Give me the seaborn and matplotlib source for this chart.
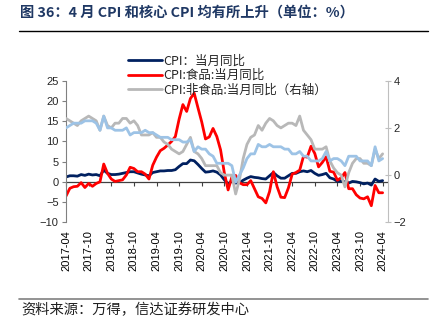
import numpy as np
import pandas as pd
import matplotlib
matplotlib.use("Agg")
import matplotlib.pyplot as plt
import seaborn as sns
from matplotlib.lines import Line2D

# ---------------- data ----------------
months = list(pd.period_range("2017-04", "2024-04", freq="M").strftime("%Y-%m"))

cpi = [1.2, 1.5, 1.5, 1.4, 1.8, 1.6, 1.9, 1.7, 1.8,
       1.5, 2.9, 2.1, 1.8, 1.8, 1.9, 2.1, 2.3, 2.5, 2.5, 2.2, 1.9,
       1.7, 1.5, 2.3, 2.5, 2.7, 2.7, 2.8, 2.8, 3.0, 3.8, 4.5, 4.5,
       5.4, 5.2, 4.3, 3.3, 2.4, 2.5, 2.7, 2.4, 1.7, 0.5, -0.5, 0.2,
       -0.3, -0.2, 0.4, 0.9, 1.3, 1.1, 1.0, 0.8, 0.7, 1.5, 2.3, 1.5,
       0.9, 0.9, 1.5, 2.1, 2.1, 2.5, 2.7, 2.5, 2.8, 2.1, 1.6, 1.8,
       2.1, 1.0, 0.7, 0.1, 0.2, 0.0, -0.3, 0.1, 0.0, -0.2, -0.5, -0.3,
       -0.8, 0.7, 0.1, 0.3]

cpi_food = [-3.5, -1.6, -1.2, -1.1, -0.2, -1.4, -0.4, -1.1, -0.4,
            0.0, 4.4, 2.1, 0.7, 0.1, 0.3, 0.5, 1.7, 3.6, 3.3, 2.5, 2.5,
            1.9, 0.7, 4.1, 6.1, 7.7, 8.3, 9.1, 10.0, 11.2, 15.5, 19.1, 17.4,
            20.6, 21.9, 18.3, 14.8, 10.6, 11.1, 13.2, 11.2, 7.9, 2.2, -2.0, 1.2,
            1.6, -0.2, -0.7, -0.7, 0.3, -1.7, -3.7, -4.1, -5.2, -2.4, 2.5, -1.2,
            -3.8, -3.9, -1.5, 1.9, 2.3, 2.9, 6.3, 6.1, 8.8, 7.0, 3.7, 4.8,
            6.2, 2.6, 2.4, 0.4, 1.0, 2.3, -1.7, -1.7, -3.2, -4.0, -4.2, -3.7,
            -5.9, -0.9, -2.7, -2.7]

cpi_nonfood = [2.4, 2.3, 2.2, 2.1, 2.3, 2.4, 2.5, 2.4, 2.3,
               1.9, 2.5, 2.1, 2.0, 2.2, 2.2, 2.4, 2.4, 2.2, 2.3, 2.1, 1.7,
               1.7, 1.7, 1.8, 1.6, 1.6, 1.4, 1.3, 1.1, 1.0, 0.9, 1.0, 1.3,
               1.6, 1.0, 0.9, 0.7, 0.4, 0.4, 0.4, 0.4, 0.1, 0.0, 0.0, 0.0,
               -0.8, -0.2, 0.7, 1.3, 1.6, 1.7, 2.1, 1.9, 2.2, 2.4, 2.3, 2.1,
               2.0, 2.1, 2.2, 2.2, 2.1, 2.5, 1.9, 1.7, 1.5, 1.1, 1.1, 1.1,
               1.2, 0.6, 0.3, 0.1, 0.0, -0.5, 0.1, 0.5, 0.7, 0.7, 0.5, 0.5,
               0.4, 1.1, 0.7, 0.9]

core_cpi = [2.0, 2.1, 2.2, 2.2, 2.2, 2.3, 2.3, 2.3, 2.2,
            1.9, 2.5, 2.0, 2.0, 1.9, 1.9, 1.9, 2.0, 1.7, 1.8, 1.8, 1.8,
            1.9, 1.8, 1.8, 1.7, 1.6, 1.6, 1.6, 1.5, 1.5, 1.5, 1.4, 1.4,
            1.5, 1.0, 1.2, 1.1, 1.1, 0.9, 0.8, 0.5, 0.5, 0.5, 0.5, 0.4,
            -0.3, 0.0, 0.3, 0.7, 0.9, 0.9, 1.3, 1.2, 1.2, 1.3, 1.2, 1.2,
            1.2, 1.1, 1.1, 0.9, 0.9, 1.0, 0.8, 0.8, 0.6, 0.6, 0.6, 0.7,
            1.0, 0.6, 0.7, 0.7, 0.6, 0.4, 0.8, 0.8, 0.8, 0.6, 0.6, 0.6,
            0.4, 1.2, 0.6, 0.7]

labels = ["CPI：当月同比", "CPI:食品:当月同比", "CPI:非食品:当月同比（右轴）"]
title = "图 36：4 月 CPI 和核心 CPI 均有所上升（单位：%）"
source = "资料来源：万得，信达证券研发中心"

left_ticks = [-10, -5, 0, 5, 10, 15, 20, 25]
right_ticks = [-2, 0, 2, 4]

df = pd.DataFrame({"x": np.arange(len(months)), "cpi": cpi, "food": cpi_food,
                   "nonfood": cpi_nonfood, "core": core_cpi})

# ---------------- style ----------------
sns.set_theme(style="white")
plt.rcParams["font.family"] = ["Liberation Sans", "Noto Sans CJK SC", "DejaVu Sans"]
CJK = ["Noto Sans CJK SC", "DejaVu Sans"]

c_cpi = "#002060"
c_food = "#FF0000"
c_nonfood = "#B8B8B8"
c_core = "#9DC3E6"
lw = 2.0

fig = plt.figure(figsize=(4.35, 3.31), dpi=100)
ax = fig.add_axes([0.151, 0.3284, 0.7416, 0.4278])
ax2 = ax.twinx()

sns.lineplot(data=df, x="x", y="cpi", ax=ax, color=c_cpi, lw=lw)
sns.lineplot(data=df, x="x", y="food", ax=ax, color=c_food, lw=lw)
sns.lineplot(data=df, x="x", y="nonfood", ax=ax2, color=c_nonfood, lw=lw)
sns.lineplot(data=df, x="x", y="core", ax=ax2, color=c_core, lw=lw)

ax.set_ylim(-10, 25)
ax2.set_ylim(-2, 4)
ax.set_xlim(-0.1, 85.5)
ax.set_yticks(left_ticks)
ax2.set_yticks(right_ticks)
ax.set_xlabel("")
ax.set_ylabel("")
ax2.set_xlabel("")
ax2.set_ylabel("")

xt = np.arange(0, len(months), 6)
ax.set_xticks(xt)
ax.set_xticklabels([months[i] for i in xt], rotation=90, fontsize=8)
ax.tick_params(axis="x", length=0, pad=5.5, colors="#000000")

# zero line as x axis with tick marks
ax.axhline(0, color="#404040", lw=0.9, zorder=1)
sec = ax.secondary_xaxis(10 / 35)
sec.set_xticks(xt)
sec.set_xticklabels([])
sec.tick_params(axis="x", direction="out", length=3, width=0.8, colors="#404040")
sec.spines["bottom"].set_visible(False)

for a in (ax, ax2):
    a.grid(False)
    a.spines["top"].set_visible(False)
    a.spines["bottom"].set_visible(False)
ax.spines["right"].set_visible(False)
ax.spines["left"].set_color("#808080")
ax.spines["left"].set_linewidth(0.8)
ax2.spines["left"].set_visible(False)
ax2.spines["right"].set_color("#BFBFBF")
ax2.spines["right"].set_linewidth(0.8)
ax.tick_params(axis="y", direction="out", length=3, width=0.8, color="#808080",
               labelsize=8, pad=2, left=True)
ax2.tick_params(axis="y", direction="inout", length=4, width=0.8, color="#BFBFBF",
                labelsize=8, pad=2, right=True)

handles = [Line2D([], [], color=c_cpi, lw=lw),
           Line2D([], [], color=c_food, lw=lw),
           Line2D([], [], color=c_nonfood, lw=lw)]
leg = ax2.legend(handles, labels, loc="upper left",
                 bbox_to_anchor=(0.294, 0.835), bbox_transform=fig.transFigure,
                 frameon=False, prop={"family": CJK, "size": 9},
                 handlelength=2.7, handletextpad=0.15, labelspacing=0.12,
                 borderpad=0, borderaxespad=0)

# title, rules and source
fig.text(0.046, 0.962, title, family=CJK, fontsize=10.3, fontweight="bold",
         color="#1F3864", va="center", ha="left")
fig.add_artist(Line2D([0.044, 0.984], [1 - 30.7 / 331] * 2, color="#000000", lw=1.0,
                      transform=fig.transFigure))
fig.add_artist(Line2D([0.044, 0.984], [1 - 299 / 331] * 2, color="#808080", lw=1.2,
                      transform=fig.transFigure))
fig.text(0.05, 1 - 309.5 / 331, source, family=CJK, fontsize=10.3, style="italic",
         color="#202020", va="center", ha="left")

fig.savefig("out.png", dpi=100)
